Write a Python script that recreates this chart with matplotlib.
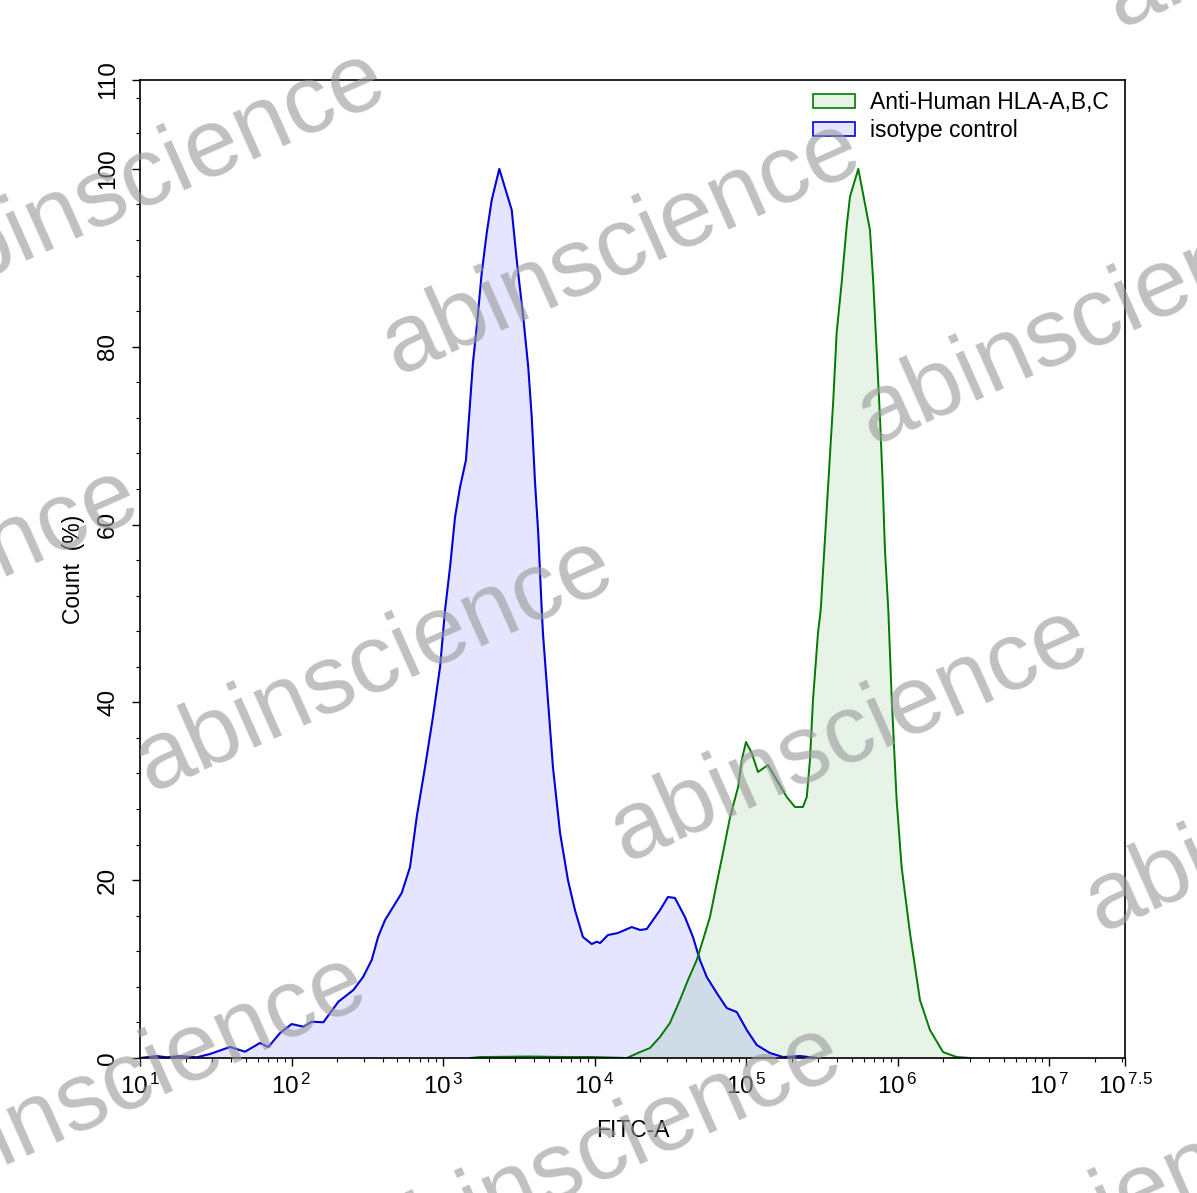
import numpy as np
import matplotlib.pyplot as plt
from matplotlib import font_manager
from matplotlib.patches import Patch
from matplotlib.ticker import FixedLocator, LogLocator, MultipleLocator, NullFormatter

installed = {f.name for f in font_manager.fontManager.ttflist}
tick_font = 'Liberation Sans Narrow' if 'Liberation Sans Narrow' in installed else 'Liberation Sans'

plt.rcParams['font.family'] = ['Liberation Sans', 'DejaVu Sans']
plt.rcParams['mathtext.fontset'] = 'custom'
plt.rcParams['mathtext.rm'] = tick_font

# isotype control histogram (log10 of FITC-A, count %)
iso_log = [1.000, 1.110, 1.176, 1.264, 1.374, 1.462, 1.594, 1.693, 1.792, 1.847,
           1.924, 2.001, 2.078, 2.133, 2.210, 2.309, 2.408, 2.472, 2.529, 2.571,
           2.617, 2.670, 2.727, 2.782, 2.826, 2.881, 2.933, 2.980, 3.013, 3.046,
           3.079, 3.112, 3.151, 3.178, 3.197, 3.222, 3.255, 3.288, 3.321, 3.371,
           3.453, 3.486, 3.529, 3.562, 3.585, 3.607, 3.628, 3.651, 3.659, 3.692,
           3.725, 3.772, 3.824, 3.870, 3.923, 3.981, 4.014, 4.036, 4.088, 4.154,
           4.245, 4.300, 4.344, 4.432, 4.484, 4.530, 4.596, 4.649, 4.695, 4.740,
           4.806, 4.872, 4.938, 5.004, 5.070, 5.157, 5.243, 5.355, 5.466]
iso_pct = [0.0, 0.22, 0.08, 0.22, 0.08, 0.45, 1.24, 0.71, 1.69, 1.24,
           2.81, 3.82, 3.52, 4.08, 4.02, 6.33, 7.65, 9.11, 11.02, 13.61,
           15.52, 16.98, 18.56, 21.48, 27.11, 32.73, 38.35, 43.98, 50.39, 55.22,
           60.85, 64.22, 67.26, 73.67, 78.17, 82.22, 88.29, 92.79, 96.50, 100.0,
           95.38, 89.75, 83.34, 77.72, 72.10, 64.67, 59.05, 50.39, 47.80, 40.27,
           32.73, 25.31, 20.02, 16.65, 13.61, 12.82, 13.08, 12.93, 13.83, 14.06,
           14.73, 14.40, 14.51, 16.65, 18.11, 18.00, 15.86, 13.61, 11.02, 9.11,
           7.31, 5.62, 5.17, 3.15, 1.46, 0.56, 0.11, 0.22, 0.0]

# Anti-Human HLA-A,B,C histogram
hla_log = [3.178, 3.244, 3.574, 3.818, 3.989, 4.212, 4.300, 4.365, 4.431, 4.497,
           4.563, 4.616, 4.674, 4.715, 4.761, 4.806, 4.847, 4.894, 4.947, 4.971,
           4.999, 5.037, 5.078, 5.144, 5.202, 5.268, 5.322, 5.375, 5.400, 5.421,
           5.441, 5.474, 5.492, 5.509, 5.542, 5.575, 5.597, 5.630, 5.663, 5.685,
           5.740, 5.817, 5.839, 5.861, 5.883, 5.901, 5.916, 5.938, 5.961, 5.993,
           6.026, 6.081, 6.147, 6.213, 6.299, 6.389, 6.477]
hla_pct = [0.0, 0.11, 0.17, 0.11, 0.11, 0.0, 0.67, 1.12, 2.36, 3.94,
           6.52, 8.77, 11.02, 13.27, 15.86, 19.68, 23.06, 27.11, 30.48, 33.52,
           35.54, 34.30, 32.17, 32.95, 31.27, 29.36, 28.23, 28.23, 29.36, 33.52,
           40.27, 47.80, 50.39, 55.22, 64.67, 74.01, 81.54, 87.17, 93.50, 96.87,
           100.0, 93.13, 87.17, 79.63, 72.10, 64.67, 57.14, 50.39, 40.27, 29.02,
           21.48, 14.06, 6.52, 3.15, 0.67, 0.11, 0.0]

xtick_exp = [1, 2, 3, 4, 5, 6, 7, 7.5]
xtick_txt = ['1', '2', '3', '4', '5', '6', '7', '7.5']
ytick_vals = [0, 20, 40, 60, 80, 100, 110]
series_names = ['Anti-Human HLA-A,B,C', 'isotype control']

W, H = 1197, 1193
fig = plt.figure(figsize=(W / 100, H / 100), dpi=100)
ax = fig.add_axes([140 / W, 1 - 1058 / H, 985 / W, 978 / H])

iso_x = 10 ** np.array(iso_log)
hla_x = 10 ** np.array(hla_log)
ax.fill_between(iso_x, iso_pct, 0, color=(0, 0, 1, 0.10), lw=0)
ax.plot(iso_x, iso_pct, color='#0000dd', lw=1.5)
ax.fill_between(hla_x, hla_pct, 0, color=(0, 0.5, 0, 0.09), lw=0)
ax.plot(hla_x, hla_pct, color='#007a00', lw=1.4)

ax.set_xscale('log')
ax.set_xlim(10 ** 1, 10 ** 7.5)
ax.set_ylim(0, 110)

ax.xaxis.set_major_locator(FixedLocator([10 ** e for e in xtick_exp]))
ax.set_xticklabels([r'$\mathregular{10^{\,' + t + '}}$' for t in xtick_txt])
ax.xaxis.set_minor_locator(LogLocator(base=10, subs=np.arange(2, 10), numticks=20))
ax.xaxis.set_minor_formatter(NullFormatter())

ax.set_yticks(ytick_vals)
ax.set_yticklabels([str(v) for v in ytick_vals], rotation=90, va='center',
                   family=tick_font)
ax.yaxis.set_minor_locator(MultipleLocator(4))

ax.tick_params(which='major', length=6, width=1, labelsize=17.5, direction='out')
ax.tick_params(which='minor', length=3, width=0.8, direction='out')
ax.tick_params(axis='x', pad=5)
ax.tick_params(axis='y', pad=9)
for s in ax.spines.values():
    s.set_linewidth(1.2)

ax.set_xlabel('FITC-A', fontsize=16.5, labelpad=15)
ax.set_ylabel('Count  (%)', fontsize=16.5, labelpad=9)

handles = [Patch(facecolor=(0, 0.5, 0, 0.09), edgecolor='#007a00', lw=1.2),
           Patch(facecolor=(0, 0, 1, 0.10), edgecolor='#0000dd', lw=1.2)]
ax.legend(handles, series_names, loc='upper right', bbox_to_anchor=(1.0, 1.005),
          frameon=False, fontsize=16.5, handlelength=1.85, handleheight=0.55,
          handletextpad=0.65, labelspacing=0.2, borderaxespad=0.3)

# watermark grid
c0 = np.array([622, 248])
va_ = np.array([475, 70])
vb_ = np.array([228, 487])
for i in range(-2, 3):
    for j in range(-2, 3):
        px, py = c0 + i * va_ + j * vb_
        if -400 < px < W + 400 and -300 < py < H + 300:
            fig.text(px / W, 1 - py / H, 'abinscience', fontsize=70, color='#9a9a9a',
                     alpha=0.62, rotation=24, rotation_mode='anchor',
                     ha='center', va='center', zorder=10)

fig.savefig('out.png', dpi=100)
